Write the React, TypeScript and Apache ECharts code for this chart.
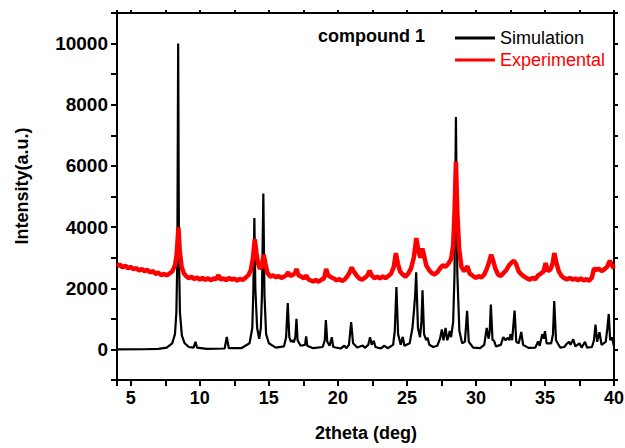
import React, { useEffect, useRef } from "react";
import * as echarts from "echarts";

const seriesNames = ["Simulation", "Experimental"];
const seriesColors = ["#000000", "#ff0000"];
const xTitle = "2theta (deg)";
const yTitle = "Intensity(a.u.)";
const sampleLabel = "compound 1";

const simulation: [number, number][] = [
  [4, 0], [6, 5], [7, 20], [7.6, 60], [8.0, 200], [8.2, 500], [8.3, 1200], [8.37, 3000], [8.43, 10000], [8.49, 3000],
  [8.56, 1200], [8.7, 450], [8.9, 200], [9.2, 80], [9.55, 60], [9.68, 250], [9.8, 60], [10.5, 20], [11.8, 30], [11.95, 410],
  [12.1, 40], [13.0, 40], [13.6, 200], [13.8, 700], [13.88, 2000], [13.95, 4300], [14.02, 2000], [14.15, 700], [14.3, 350],
  [14.42, 700], [14.5, 1800], [14.6, 5100], [14.68, 1800], [14.8, 500], [15.0, 200], [15.5, 60], [16.1, 100], [16.25, 400],
  [16.37, 1520], [16.48, 400], [16.6, 250], [16.7, 300], [16.8, 230], [16.92, 400], [17.0, 1000], [17.08, 300], [17.3, 120],
  [17.62, 150], [17.7, 430], [17.78, 120], [18.2, 40], [18.9, 80], [19.05, 300], [19.13, 960], [19.23, 250], [19.4, 120],
  [19.56, 400], [19.66, 80], [20.2, 30], [20.47, 120], [20.6, 40], [20.8, 150], [20.96, 890], [21.1, 200], [21.4, 60],
  [21.8, 130], [21.95, 50], [22.2, 150], [22.33, 400], [22.45, 150], [22.6, 280], [22.72, 80], [23.1, 30], [23.37, 120],
  [23.6, 40], [24.0, 150], [24.12, 600], [24.24, 2040], [24.36, 500], [24.55, 150], [24.7, 410], [24.82, 120], [25.2, 200],
  [25.4, 700], [25.5, 1200], [25.6, 1800], [25.67, 2520], [25.8, 700], [25.95, 400], [26.05, 900], [26.13, 1930], [26.24, 500],
  [26.4, 300], [26.5, 380], [26.62, 150], [26.9, 80], [27.2, 120], [27.4, 350], [27.53, 650], [27.65, 300], [27.8, 700],
  [27.92, 300], [28.0, 400], [28.1, 600], [28.2, 400], [28.35, 900], [28.45, 2500], [28.55, 7600], [28.65, 2500], [28.8, 600],
  [29.0, 200], [29.2, 250], [29.36, 1260], [29.48, 250], [29.8, 60], [30.3, 40], [30.6, 150], [30.78, 700], [30.92, 350],
  [31.0, 600], [31.08, 1470], [31.2, 300], [31.3, 300], [31.45, 100], [31.8, 150], [31.98, 400], [32.15, 300], [32.3, 380],
  [32.42, 300], [32.5, 500], [32.62, 300], [32.8, 1270], [32.92, 250], [33.1, 200], [33.28, 570], [33.42, 150], [33.8, 50],
  [34.3, 60], [34.5, 260], [34.62, 120], [34.8, 500], [34.92, 350], [35.0, 600], [35.12, 200], [35.45, 200], [35.58, 500],
  [35.67, 1580], [35.8, 300], [36.1, 60], [36.4, 80], [36.6, 200], [36.75, 250], [36.85, 150], [37.05, 330], [37.2, 100],
  [37.5, 200], [37.65, 60], [37.9, 250], [38.05, 60], [38.4, 80], [38.55, 300], [38.66, 810], [38.78, 250], [38.95, 560],
  [39.1, 150], [39.4, 250], [39.52, 700], [39.62, 1160], [39.72, 300], [39.85, 400], [40, 100],
];

const experimental: [number, number][] = [
  [4.0, 2720], [4.2, 2780], [4.4, 2680], [4.6, 2740], [4.8, 2650], [5.0, 2700], [5.2, 2620], [5.4, 2660], [5.6, 2580],
  [5.8, 2630], [6.0, 2560], [6.2, 2600], [6.4, 2520], [6.6, 2560], [6.8, 2470], [7.0, 2510], [7.2, 2430], [7.4, 2470],
  [7.6, 2420], [7.8, 2480], [8.0, 2550], [8.2, 2750], [8.32, 3100], [8.45, 3990], [8.55, 3200], [8.68, 2700], [8.85, 2480],
  [9.0, 2400], [9.2, 2330], [9.4, 2380], [9.6, 2300], [9.8, 2350], [10.0, 2280], [10.2, 2340], [10.4, 2270], [10.6, 2330],
  [10.8, 2260], [11.0, 2320], [11.2, 2300], [11.35, 2430], [11.5, 2280], [11.7, 2330], [11.9, 2260], [12.1, 2340],
  [12.3, 2280], [12.5, 2320], [12.7, 2250], [12.9, 2310], [13.1, 2270], [13.3, 2340], [13.5, 2420], [13.7, 2600],
  [13.85, 3000], [13.98, 3600], [14.1, 3150], [14.22, 2800], [14.35, 2640], [14.48, 2700], [14.62, 3100], [14.75, 2800],
  [14.9, 2500], [15.1, 2380], [15.3, 2420], [15.5, 2360], [15.7, 2400], [15.9, 2340], [16.1, 2380], [16.25, 2420],
  [16.4, 2520], [16.55, 2400], [16.75, 2440], [16.9, 2500], [17.0, 2630], [17.15, 2420], [17.35, 2380], [17.55, 2320],
  [17.7, 2420], [17.85, 2300], [18.0, 2260], [18.2, 2220], [18.4, 2270], [18.6, 2210], [18.8, 2280], [19.0, 2330],
  [19.15, 2630], [19.3, 2420], [19.5, 2360], [19.7, 2320], [19.9, 2260], [20.1, 2300], [20.3, 2240], [20.5, 2290],
  [20.7, 2400], [20.85, 2520], [21.0, 2680], [21.15, 2550], [21.35, 2420], [21.55, 2320], [21.75, 2280], [21.95, 2340],
  [22.15, 2420], [22.3, 2580], [22.45, 2420], [22.65, 2330], [22.85, 2380], [23.05, 2320], [23.25, 2390], [23.45, 2330],
  [23.65, 2400], [23.85, 2480], [24.05, 2700], [24.2, 3150], [24.35, 2800], [24.5, 2550], [24.7, 2450], [24.9, 2380],
  [25.1, 2480], [25.3, 2650], [25.5, 3000], [25.68, 3640], [25.85, 3200], [25.98, 3000], [26.12, 3300], [26.25, 3050],
  [26.4, 2750], [26.6, 2600], [26.8, 2500], [27.0, 2450], [27.2, 2520], [27.4, 2650], [27.6, 2750], [27.8, 2700],
  [28.0, 2800], [28.2, 2950], [28.35, 3400], [28.45, 4500], [28.55, 6140], [28.65, 4500], [28.78, 3300], [28.95, 2700],
  [29.15, 2550], [29.38, 2720], [29.55, 2480], [29.8, 2400], [30.0, 2340], [30.2, 2400], [30.4, 2350], [30.6, 2450],
  [30.8, 2650], [30.95, 2850], [31.1, 3100], [31.25, 2900], [31.4, 2650], [31.6, 2450], [31.8, 2400], [32.0, 2500],
  [32.2, 2600], [32.4, 2750], [32.6, 2850], [32.75, 2900], [32.9, 2800], [33.1, 2550], [33.3, 2450], [33.5, 2380],
  [33.7, 2330], [33.9, 2280], [34.1, 2340], [34.3, 2300], [34.5, 2420], [34.7, 2480], [34.9, 2550], [35.05, 2820],
  [35.2, 2560], [35.4, 2620], [35.55, 2800], [35.68, 3150], [35.82, 2850], [36.0, 2550], [36.2, 2400], [36.4, 2330],
  [36.6, 2290], [36.8, 2340], [37.0, 2280], [37.2, 2320], [37.4, 2260], [37.6, 2330], [37.8, 2250], [38.0, 2300],
  [38.2, 2240], [38.4, 2350], [38.55, 2650], [38.7, 2600], [38.9, 2640], [39.1, 2560], [39.3, 2620], [39.5, 2700],
  [39.7, 2900], [39.85, 2750], [40.0, 2650],
];

const FONT = "'Liberation Sans', Arial, sans-serif";

export default function App() {
  const ref = useRef<HTMLDivElement>(null);
  useEffect(() => {
    if (!ref.current) return;
    const chart = echarts.init(ref.current, null, { renderer: "svg" });
    const mkLine = () => ({ show: true, onZero: false, lineStyle: { color: "#000", width: 2 } });
    const mkTick = (len: number) => ({ show: true, length: len, lineStyle: { color: "#000", width: 2 } });
    const mkMinor = (len: number) => ({ show: true, splitNumber: 2, length: len, lineStyle: { color: "#000", width: 2 } });
    const labelStyle = {
      color: "#000",
      fontSize: 19,
      fontWeight: "bold" as const,
      fontFamily: FONT,
      formatter: (v: number) => String(v),
    };
    chart.setOption({
      animation: false,
      backgroundColor: "#fff",
      grid: { left: 117, right: 11, top: 13, bottom: 68, outerBoundsMode: "none", containLabel: false },
      legend: {
        orient: "vertical",
        left: 450,
        top: 22,
        itemWidth: 40,
        itemHeight: 3,
        itemGap: 0,
        icon: "rect",
        textStyle: { fontSize: 18, fontFamily: FONT, lineHeight: 22 },
        data: [
          { name: seriesNames[0], textStyle: { color: seriesColors[0] } },
          { name: seriesNames[1], textStyle: { color: seriesColors[1] } },
        ],
      },
      xAxis: [
        {
          type: "value",
          min: 4,
          max: 40,
          splitNumber: 8,
          axisLine: mkLine(),
          axisTick: mkTick(6),
          minorTick: mkMinor(6),
          splitLine: { show: false },
          minorSplitLine: { show: false },
          axisLabel: { ...labelStyle, fontSize: 18, margin: 9, showMinLabel: false },
        },
        {
          type: "value",
          position: "top",
          min: 4,
          max: 40,
          splitNumber: 8,
          axisLine: mkLine(),
          axisTick: mkTick(3),
          minorTick: mkMinor(3),
          splitLine: { show: false },
          minorSplitLine: { show: false },
          axisLabel: { show: false },
        },
      ],
      yAxis: [
        {
          type: "value",
          min: -1000,
          max: 11000,
          splitNumber: 6,
          axisLine: mkLine(),
          axisTick: mkTick(6),
          minorTick: mkMinor(6),
          splitLine: { show: false },
          minorSplitLine: { show: false },
          axisLabel: { ...labelStyle, margin: 9, showMinLabel: false, showMaxLabel: false },
        },
        {
          type: "value",
          position: "right",
          min: -1000,
          max: 11000,
          splitNumber: 6,
          axisLine: mkLine(),
          axisTick: mkTick(4),
          minorTick: mkMinor(4),
          splitLine: { show: false },
          minorSplitLine: { show: false },
          axisLabel: { show: false },
        },
      ],
      graphic: [
        {
          type: "text",
          x: 366,
          y: 433,
          style: { text: xTitle, font: `bold 18px ${FONT}`, fill: "#000", textAlign: "center", textVerticalAlign: "middle" },
        },
        {
          type: "text",
          x: 22,
          y: 186,
          rotation: Math.PI / 2,
          style: { text: yTitle, font: `bold 18px ${FONT}`, fill: "#000", textAlign: "center", textVerticalAlign: "middle" },
        },
        {
          type: "text",
          x: 318,
          y: 36,
          style: { text: sampleLabel, font: `bold 18px ${FONT}`, fill: "#000", textAlign: "left", textVerticalAlign: "middle" },
        },
      ],
      series: [
        {
          name: seriesNames[0],
          type: "line",
          data: simulation,
          showSymbol: false,
          symbol: "none",
          lineStyle: { color: seriesColors[0], width: 2.2 },
          itemStyle: { color: seriesColors[0] },
          xAxisIndex: 0,
          yAxisIndex: 0,
        },
        {
          name: seriesNames[1],
          type: "line",
          data: experimental,
          showSymbol: false,
          symbol: "none",
          lineStyle: { color: seriesColors[1], width: 4.5 },
          itemStyle: { color: seriesColors[1] },
          xAxisIndex: 0,
          yAxisIndex: 0,
        },
      ],
    });
    return () => chart.dispose();
  }, []);
  return <div ref={ref} style={{ width: 625, height: 448, position: "absolute", left: 0, top: 0 }} />;
}
